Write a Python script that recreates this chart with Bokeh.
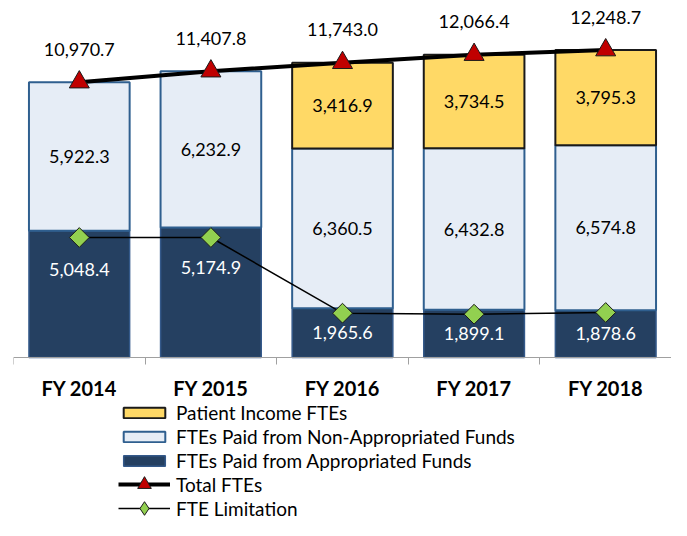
from bokeh.plotting import figure
from bokeh.models import Range1d, FixedTicker, Legend, LegendItem
from bokeh.core.properties import value
from bokeh.embed import file_html
from bokeh.resources import INLINE
import math

# ---- data ----
years = ["FY 2014", "FY 2015", "FY 2016", "FY 2017", "FY 2018"]
appropriated = [5048.4, 5174.9, 1965.6, 1899.1, 1878.6]
non_appropriated = [5922.3, 6232.9, 6360.5, 6432.8, 6574.8]
patient_income = [None, None, 3416.9, 3734.5, 3795.3]
total_ftes = [10970.7, 11407.8, 11743.0, 12066.4, 12248.7]
fte_limitation = [4781, 4781, 1765, 1725, 1793]

FONT = "Lato"

def fmt(v):
    return f"{v:,.1f}"

n = len(years)
xc = [i + 0.5 for i in range(n)]
bounds = [float(i) for i in range(n + 1)]

non_bot = appropriated
non_top = [a + b for a, b in zip(appropriated, non_appropriated)]
pat_idx = [i for i, v in enumerate(patient_income) if v is not None]

W, H = 671, 520
BASE_PX = 357          # pixel row of the zero line
PX_PER_UNIT = 0.0251
y0 = -(H - BASE_PX) / PX_PER_UNIT
y1 = BASE_PX / PX_PER_UNIT

p = figure(width=W, height=H, output_backend="svg", toolbar_location=None,
           x_range=Range1d(0, n), y_range=Range1d(y0, y1),
           min_border_left=13, min_border_right=0, min_border_top=0, min_border_bottom=0)
p.outline_line_color = None
p.grid.visible = False
p.yaxis.visible = False
p.background_fill_color = "white"

BW = 0.765
r_app = p.vbar(x=xc, bottom=0, top=appropriated, width=BW,
               fill_color="#254061", line_color="#34598A", line_width=1.5)
r_non = p.vbar(x=xc, bottom=non_bot, top=non_top, width=BW,
               fill_color="#E6EDF6", line_color="#2F5F8F", line_width=2)
r_pat = p.vbar(x=[xc[i] for i in pat_idx], bottom=[non_top[i] for i in pat_idx],
               top=[non_top[i] + patient_income[i] for i in pat_idx], width=BW,
               fill_color="#FFD966", line_color="#1A1A1A", line_width=2)

# segment labels
app_off = [-25, -25, 0, 0, 0]
p.text(x=xc, y=[v / 2 for v in appropriated], text=[fmt(v) for v in appropriated],
       y_offset=app_off, text_align="center", text_baseline="middle",
       text_font=value(FONT), text_font_size="18px", text_color="white")
p.text(x=xc, y=[a + b / 2 for a, b in zip(appropriated, non_appropriated)],
       text=[fmt(v) for v in non_appropriated], text_align="center", text_baseline="middle",
       text_font=value(FONT), text_font_size="18px", text_color="black")
p.text(x=[xc[i] for i in pat_idx], y=[non_top[i] + patient_income[i] / 2 for i in pat_idx],
       text=[fmt(patient_income[i]) for i in pat_idx], text_align="center", text_baseline="middle",
       text_font=value(FONT), text_font_size="18px", text_color="black")

# lines
r_tot_l = p.line(x=xc, y=total_ftes, line_color="black", line_width=4)
r_tot_m = p.scatter(x=xc, y=total_ftes, marker="triangle", size=20,
                    fill_color="#C00000", line_color="#1A1A1A", line_width=1)
r_lim_l = p.line(x=xc, y=fte_limitation, line_color="black", line_width=1.5)
# legend stand-in for the diamond (legend glyphs ignore marker angle); hidden under the real markers
r_lim_proxy = p.scatter(x=xc, y=fte_limitation, marker="diamond", size=10,
                        fill_color="#92D050", line_color="#1A1A1A", line_width=1)
r_lim_m = p.scatter(x=xc, y=fte_limitation, marker="square", angle=math.pi / 4, size=14,
                    fill_color="#92D050", line_color="#1A1A1A", line_width=1)

p.text(x=xc, y=total_ftes, text=[fmt(v) for v in total_ftes], y_offset=-33,
       text_align="center", text_baseline="middle",
       text_font=value(FONT), text_font_size="18px", text_color="black")

# x axis pinned at zero
ax = p.xaxis[0]
ax.fixed_location = 0
ax.ticker = FixedTicker(ticks=xc, minor_ticks=bounds)
ax.major_label_overrides = {x: y for x, y in zip(xc, years)}
ax.major_tick_line_color = None
ax.major_tick_out = 0
ax.major_tick_in = 0
ax.minor_tick_in = 0
ax.minor_tick_out = 7
ax.minor_tick_line_color = "#A0A0A0"
ax.axis_line_color = "#A0A0A0"
ax.axis_line_width = 1
ax.major_label_standoff = 11
ax.major_label_text_font = FONT
ax.major_label_text_font_style = "bold"
ax.major_label_text_font_size = "20px"
ax.major_label_text_color = "black"

# legends
def style(lg):
    lg.background_fill_alpha = 0
    lg.border_line_color = None
    lg.padding = 0
    lg.margin = 0
    lg.glyph_width = 52
    lg.label_standoff = 6
    lg.label_text_font = FONT
    lg.label_text_font_size = "19px"
    lg.label_text_color = "black"
    lg.orientation = "vertical"
    p.add_layout(lg, "center")

LX = 105
lg1 = Legend(items=[LegendItem(label="Patient Income FTEs", renderers=[r_pat]),
                    LegendItem(label="FTEs Paid from Non-Appropriated Funds", renderers=[r_non]),
                    LegendItem(label="FTEs Paid from Appropriated Funds", renderers=[r_app])])
lg1.glyph_height = 13
lg1.label_height = 23
lg1.spacing = 1
lg1.location = (LX, 48)
style(lg1)

lg2 = Legend(items=[LegendItem(label="Total FTEs", renderers=[r_tot_l, r_tot_m])])
lg2.glyph_height = 34
lg2.label_height = 23
lg2.spacing = 0
lg2.location = (LX, 19)
style(lg2)

lg3 = Legend(items=[LegendItem(label="FTE Limitation", renderers=[r_lim_l, r_lim_proxy])])
lg3.glyph_height = 34
lg3.label_height = 23
lg3.spacing = 0
lg3.location = (LX, -5)
style(lg3)

open("out.html", "w").write(file_html(p, INLINE))
